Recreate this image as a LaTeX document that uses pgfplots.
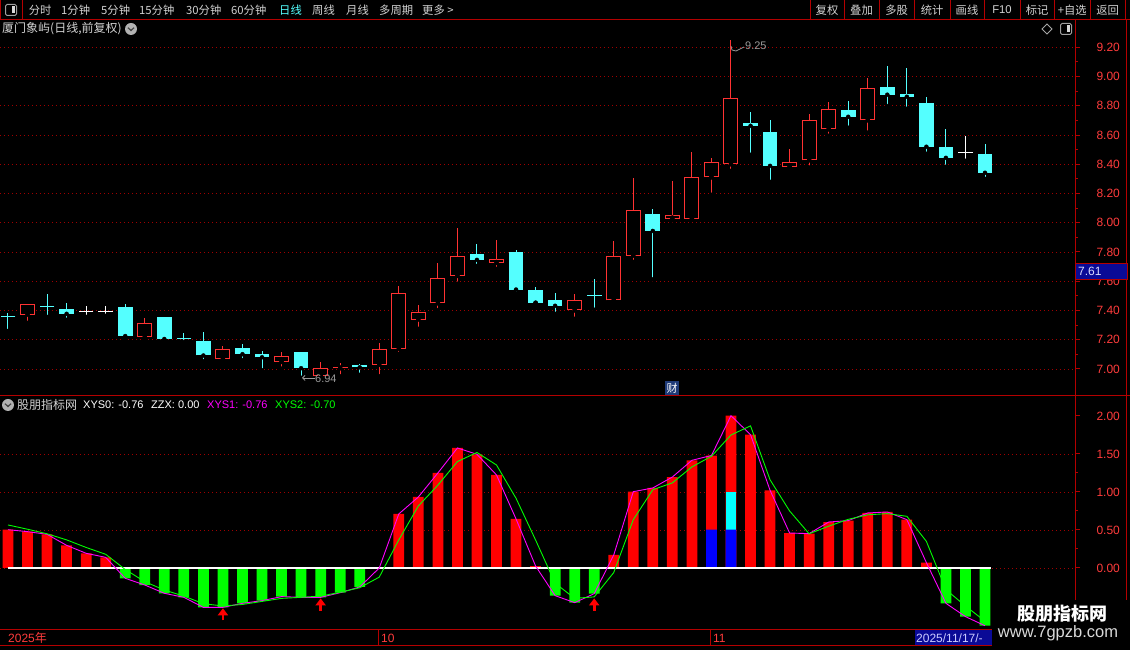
\documentclass[border=0pt]{standalone}
\usepackage{fontspec}
\setmainfont{Liberation Sans}
\newfontfamily\cjk{Noto Sans CJK SC}
\usepackage{pgfplots}
\usepackage{pgfplotstable}
\pgfplotsset{compat=1.18}
\usetikzlibrary{arrows.meta}
\definecolor{axred}{HTML}{B40000}
\definecolor{labred}{HTML}{FF3C3C}
\definecolor{cred}{HTML}{FF3232}
\definecolor{ccyan}{HTML}{54FFFF}
\definecolor{txt}{HTML}{D2D2D2}
\definecolor{gridred}{HTML}{A00000}
\definecolor{navy}{HTML}{0A0A96}
\definecolor{caibox}{HTML}{1E3A78}
\definecolor{mag}{RGB}{255,0,255}
\definecolor{cyn}{RGB}{0,255,255}
\definecolor{grn}{RGB}{0,255,0}
\definecolor{rd}{RGB}{255,0,0}
\definecolor{bl}{RGB}{0,0,255}
% rising candles (red, hollow): x open high low close
\pgfplotstableread{
x o h l c
1 7.372 7.441 7.315 7.441
7 7.218 7.347 7.191 7.317
11 7.067 7.154 7.067 7.138
14 7.048 7.113 7.002 7.090
16 6.950 7.050 6.945 7.007
17 7.004 7.044 6.950 7.013
19 7.028 7.175 6.950 7.138
20 7.138 7.568 7.103 7.517
21 7.338 7.437 7.274 7.389
22 7.448 7.726 7.402 7.621
23 7.636 7.963 7.583 7.775
25 7.725 7.880 7.684 7.755
29 7.400 7.513 7.343 7.469
31 7.469 7.878 7.469 7.772
32 7.775 8.305 7.732 8.090
34 8.029 8.284 8.017 8.056
35 8.027 8.483 8.027 8.310
36 8.310 8.442 8.191 8.419
37 8.399 9.250 8.355 8.851
40 8.383 8.504 8.378 8.419
41 8.426 8.743 8.378 8.700
42 8.638 8.823 8.595 8.775
44 8.700 8.988 8.616 8.919
}\upT
% falling candles (cyan, filled)
\pgfplotstableread{
x o h l c
3 7.409 7.451 7.336 7.377
6 7.423 7.444 7.202 7.225
8 7.354 7.354 7.191 7.205
10 7.189 7.251 7.053 7.092
12 7.140 7.168 7.060 7.101
13 7.099 7.126 6.991 7.080
15 7.113 7.117 6.940 7.005
18 7.030 7.037 6.960 7.011
24 7.789 7.853 7.705 7.746
26 7.802 7.816 7.515 7.543
27 7.540 7.561 7.453 7.453
28 7.471 7.520 7.377 7.432
33 8.058 8.093 7.613 7.944
38 8.679 8.755 8.465 8.663
39 8.620 8.702 8.280 8.389
43 8.771 8.832 8.650 8.725
45 8.928 9.072 8.798 8.876
46 8.880 9.058 8.780 8.862
47 8.819 8.858 8.472 8.520
48 8.517 8.641 8.383 8.444
50 8.469 8.538 8.300 8.342
}\dnT
% doji candles
\pgfplotstableread{
x p h l
0 7.361 7.386 7.260
2 7.428 7.513 7.356
9 7.207 7.248 7.184
30 7.501 7.616 7.405
}\djC
\pgfplotstableread{
x p h l
4 7.395 7.430 7.356
5 7.395 7.430 7.363
49 8.479 8.593 8.424
}\djW
\pgfplotsset{
  cbar/.style 2 args={only marks, mark=none,
    /pgfplots/error bars/y dir=plus, /pgfplots/error bars/y explicit,
    /pgfplots/error bars/error mark=none,
    /pgfplots/error bars/error bar style={color=#1, line width=#2, line cap=butt}}}
\newcommand\fs[1]{\fontsize{#1}{#1}\selectfont}
\begin{document}
\begin{tikzpicture}[x=1pt,y=1pt]
\fill[black] (0,0) rectangle (1130,650);
\useasboundingbox (0,0) rectangle (1130,650);
% ---------------- upper panel: candles
\begin{axis}[at={(0pt,254pt)}, anchor=south west, scale only axis,
  width=1075pt, height=376pt,
  xmin=-0.409, xmax=54.606, ymin=6.815, ymax=9.387,
  axis x line=none, axis y line*=right,
  y axis line style={draw=axred, line width=1pt, -},
  ytick={7,7.2,7.4,7.6,7.8,8,8.2,8.4,8.6,8.8,9,9.2}, minor y tick num=1,
  tick align=outside, major tick length=5pt, minor tick length=3pt,
  every tick/.style={draw=axred, line width=1pt},
  yticklabel style={text=labred, font=\fs{12}, xshift=13pt},
  /pgf/number format/fixed, /pgf/number format/fixed zerofill,
  /pgf/number format/precision=2, /pgf/number format/assume math mode=true,
  ymajorgrids, major grid style={gridred, dash pattern=on 1pt off 3pt, line width=0.8pt},
  clip=false]
% red candles: wick, outline, hollow inside
\addplot[cbar={cred}{1pt}] table[x=x, y=l, y error plus expr=\thisrow{h}-\thisrow{l}] {\upT};
\addplot[cbar={cred}{15pt}] table[x=x, y=o, y error plus expr=\thisrow{c}-\thisrow{o}] {\upT};
\addplot[cbar={black}{13pt}] table[x=x, y expr=\thisrow{o}+0.0068, y error plus expr={max(0,\thisrow{c}-\thisrow{o}-0.0137)}] {\upT};
% cyan candles
\addplot[cbar={ccyan}{1pt}] table[x=x, y=l, y error plus expr=\thisrow{h}-\thisrow{l}] {\dnT};
\addplot[cbar={ccyan}{14.7pt}] table[x=x, y=c, y error plus expr=\thisrow{o}-\thisrow{c}] {\dnT};
% doji
\addplot[cbar={ccyan}{1pt}] table[x=x, y=l, y error plus expr=\thisrow{h}-\thisrow{l}] {\djC};
\addplot[only marks, mark=-, mark size=7.3pt, mark options={draw=ccyan, line width=1pt}] table[x=x, y=p] {\djC};
\addplot[cbar={white}{1pt}] table[x=x, y=l, y error plus expr=\thisrow{h}-\thisrow{l}] {\djW};
\addplot[only marks, mark=-, mark size=7.3pt, mark options={draw=white, line width=1pt}] table[x=x, y=p] {\djW};
\end{axis}
% annotations on top of the candles
\draw[gray!80, line width=0.8pt] (731,604) -- (732,600) -- (736,599) -- (744,603);
\node[anchor=west, text=gray!80, font=\fs{11}, inner sep=0pt] at (745,604) {9.25};
\draw[gray!80, line width=0.8pt, -{Straight Barb[length=2.5pt,width=5pt]}] (315,272) -- (302,272);
\node[anchor=west, text=gray!80, font=\fs{11}, inner sep=0pt] at (315,271.5) {6.94};
\node[fill=caibox, text=white, font=\cjk\fs{11}, inner sep=1.5pt] at (672,262) {财};
% ---------------- lower panel: indicator
\begin{axis}[at={(0pt,20pt)}, anchor=south west, scale only axis,
  width=1075pt, height=234pt,
  xmin=-0.409, xmax=54.606, ymin=-0.816, ymax=2.263,
  axis x line=none, axis y line*=right,
  y axis line style={draw=axred, line width=1pt, -},
  ytick={0,0.5,1,1.5}, extra y ticks={2}, extra y tick style={grid=none},
  minor y tick num=1,
  tick align=outside, major tick length=5pt, minor tick length=3pt,
  every tick/.style={draw=axred, line width=1pt},
  yticklabel style={text=labred, font=\fs{12}, xshift=13pt},
  /pgf/number format/fixed, /pgf/number format/fixed zerofill,
  /pgf/number format/precision=2, /pgf/number format/assume math mode=true,
  ymajorgrids, major grid style={gridred, dash pattern=on 1pt off 3pt, line width=0.8pt},
  clip=false]
% XYS0 bars, positive (red)
\addplot[ybar, bar width=0.55, bar shift=0pt, fill=rd, draw=none] coordinates {
(0,0.504) (1,0.478) (2,0.443) (3,0.298) (4,0.193) (5,0.140)
(20,0.711) (21,0.934) (22,1.250) (23,1.579) (24,1.496) (25,1.224) (26,0.645) (27,0.026)
(31,0.171) (32,1.004) (33,1.053) (34,1.197) (35,1.417) (36,1.480) (37,2.004) (38,1.754)
(39,1.022) (40,0.460) (41,0.452) (42,0.605) (43,0.623) (44,0.724) (45,0.737) (46,0.636) (47,0.070)};
% negative (green)
\addplot[ybar, bar width=0.55, bar shift=0pt, fill=grn, draw=none] coordinates {
(6,-0.136) (7,-0.224) (8,-0.333) (9,-0.386) (10,-0.518) (11,-0.518) (12,-0.465) (13,-0.430)
(14,-0.377) (15,-0.386) (16,-0.386) (17,-0.325) (18,-0.250)
(28,-0.364) (29,-0.456) (30,-0.338) (48,-0.465) (49,-0.640) (50,-0.760)};
% cyan and blue segments
\addplot[ybar, bar width=0.55, bar shift=0pt, fill=cyn, draw=none] coordinates {(37,1.004)};
\addplot[ybar, bar width=0.55, bar shift=0pt, fill=bl, draw=none] coordinates {(36,0.504) (37,0.504)};
% zero line
\addplot[white, line width=1.2pt] coordinates {(0,0) (50.3,0)};
% XYS1 (magenta)
\addplot[mag, line width=0.9pt] coordinates {
(0,0.504) (1,0.478) (2,0.443) (3,0.298) (4,0.193) (5,0.140) (6,-0.136) (7,-0.224) (8,-0.333)
(9,-0.386) (10,-0.518) (11,-0.518) (12,-0.465) (13,-0.430) (14,-0.377) (15,-0.386) (16,-0.386)
(17,-0.325) (18,-0.250) (19,0) (20,0.711) (21,0.934) (22,1.250) (23,1.579) (24,1.496) (25,1.224)
(26,0.645) (27,0.026) (28,-0.364) (29,-0.456) (30,-0.338) (31,0.171) (32,1.004) (33,1.053)
(34,1.197) (35,1.417) (36,1.480) (37,2.004) (38,1.754) (39,1.022) (40,0.460) (41,0.452)
(42,0.605) (43,0.623) (44,0.724) (45,0.737) (46,0.636) (47,0.070) (48,-0.465) (49,-0.640) (50,-0.760)};
% XYS2 (green)
\addplot[grn, line width=0.9pt] coordinates {
(0,0.566) (1,0.51) (2,0.45) (3,0.37) (4,0.27) (5,0.18) (6,-0.02) (7,-0.18) (8,-0.29)
(9,-0.37) (10,-0.47) (11,-0.50) (12,-0.48) (13,-0.44) (14,-0.40) (15,-0.386) (16,-0.37)
(17,-0.32) (18,-0.26) (19,-0.12) (20,0.37) (21,0.816) (22,1.09) (23,1.40) (24,1.52) (25,1.355)
(26,0.917) (27,0.368) (28,-0.20) (29,-0.40) (30,-0.38) (31,-0.06) (32,0.636) (33,1.03)
(34,1.12) (35,1.33) (36,1.47) (37,1.75) (38,1.87) (39,1.16) (40,0.75) (41,0.45)
(42,0.55) (43,0.64) (44,0.70) (45,0.715) (46,0.68) (47,0.35) (48,-0.285) (49,-0.50) (50,-0.70)};
% buy arrows
\addplot[rd, line width=2.6pt, -{Triangle[width=10pt,length=7pt]}, quiver={u=0, v=\thisrow{v}}]
  table[row sep=\\] {x y v\\ 11 -0.69 0.16\\ 16 -0.56 0.16\\ 30 -0.56 0.16\\};
\end{axis}
% ---------------- frame lines
\draw[axred, line width=1pt] (0,630.5) -- (1130,630.5);
\draw[axred, line width=1pt] (0,254) -- (1130,254);
\draw[axred, line width=1pt] (0,20) -- (1130,20);
\draw[axred, line width=1pt] (0,4.5) -- (1130,4.5);
\draw[axred, line width=1pt] (1075.5,0) -- (1075.5,630.5);
\draw[axred, line width=1pt] (1126.5,0) -- (1126.5,630.5);
\draw[axred, line width=1pt] (378.5,4.5) -- (378.5,20);
\draw[axred, line width=1pt] (710,4.5) -- (710,20);
% ---------------- toolbar
\draw[axred, line width=1pt] (0.5,630.5) rectangle (22,650);
\draw[gray!75, line width=1pt, rounded corners=1.5pt] (5.5,634.5) rectangle (16.5,645.5);
\fill[white!85!black] (11.5,636.5) rectangle (15,643.5);
\begin{scope}[every node/.style={anchor=west, text=txt, font=\cjk\fs{11.3}, inner sep=0pt}]
\node at (28.6,640) {分时};
\node at (61,640) {1分钟};
\node at (101,640) {5分钟};
\node at (139,640) {15分钟};
\node at (186,640) {30分钟};
\node at (231,640) {60分钟};
\node[text=ccyan] at (279,640) {日线};
\node at (312,640) {周线};
\node at (346,640) {月线};
\node at (379,640) {多周期};
\node at (422,640) {更多 >};
\end{scope}
\foreach \xx in {810,844,879,914.5,950,984,1020,1054.5,1090,1125.5}
  \draw[axred, line width=1pt] (\xx,630.5) -- (\xx,650);
\begin{scope}[every node/.style={text=txt, font=\cjk\fs{11.3}, inner sep=0pt}]
\node at (827,640) {复权};
\node at (861.5,640) {叠加};
\node at (896.7,640) {多股};
\node at (932.2,640) {统计};
\node at (967,640) {画线};
\node[font=\fs{11.3}] at (1002,640) {F10};
\node at (1037.2,640) {标记};
\node at (1072.2,640) {+自选};
\node at (1107.7,640) {返回};
\end{scope}
% ---------------- titles
\node[anchor=west, text=txt, font=\cjk\fs{12}, inner sep=0pt] at (2,621) {厦门象屿(日线,前复权)};
\fill[gray!60] (131,621) circle (6);
\draw[black!75, line width=1.2pt] (128,622.3) -- (131,619.5) -- (134,622.3);
\draw[gray!70, line width=0.8pt] (1047,626) -- (1052,621) -- (1047,616) -- (1042,621) -- cycle;
\draw[gray!75, line width=1pt, rounded corners=1.5pt] (1060.5,615.5) rectangle (1071.5,626.5);
\fill[white!85!black] (1066.5,617.5) rectangle (1070,624.5);
% 7.61 marker
\draw[axred, fill=navy, line width=0.8pt] (1075.5,371) rectangle (1127,387);
\node[anchor=west, text=white!85!blue, font=\fs{12}, inner sep=0pt] at (1078,379) {7.61};
% indicator header
\fill[gray!60] (8,245) circle (6);
\draw[black!75, line width=1.2pt] (5,246.3) -- (8,243.5) -- (11,246.3);
\node[anchor=west, text=txt, font=\cjk\fs{12}, inner sep=0pt] at (17,245) {股朋指标网};
\node[anchor=west, text=white, font=\fs{11}, inner sep=0pt] at (83,245) {XYS0: -0.76};
\node[anchor=west, text=white, font=\fs{11}, inner sep=0pt] at (151,245) {ZZX: 0.00};
\node[anchor=west, text=mag, font=\fs{11}, inner sep=0pt] at (207,245) {XYS1: -0.76};
\node[anchor=west, text=grn, font=\fs{11}, inner sep=0pt] at (275,245) {XYS2: -0.70};
% date bar
\node[anchor=west, text=labred, font=\fs{12}, inner sep=0pt] at (8,12) {2025{\cjk 年}};
\node[anchor=west, text=labred, font=\fs{12}, inner sep=0pt] at (381,12) {10};
\node[anchor=west, text=labred, font=\fs{12}, inner sep=0pt] at (713,12) {11};
\fill[navy] (914.5,4.5) rectangle (992,20);
\node[anchor=west, text=white!80!blue, font=\fs{12}, inner sep=0pt] at (916,12) {2025/11/17/-};
% watermark
\fill[black] (992,0) rectangle (1130,50);
\node[text=white, font=\cjk\bfseries\fs{18}, inner sep=0pt] at (1062,36) {股朋指标网};
\node[text=white!85!black, font=\fs{16.5}, inner sep=0pt] at (1058,17) {www.7gpzb.com};
\end{tikzpicture}
\end{document}
